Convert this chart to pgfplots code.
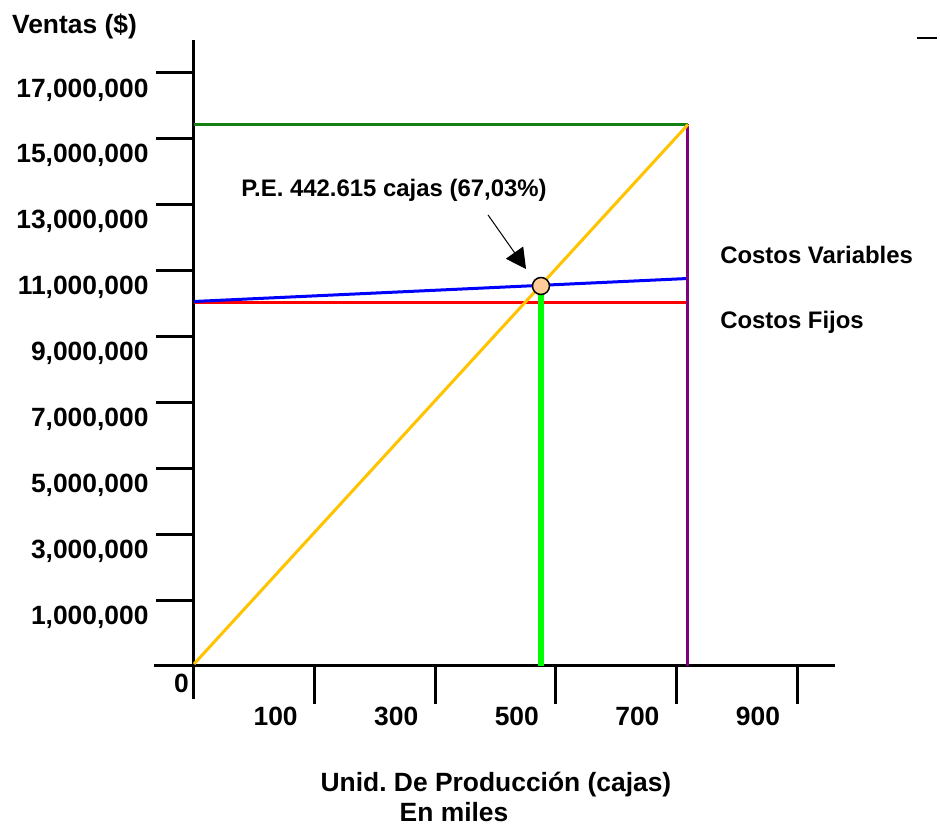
\documentclass[border=0pt]{standalone}
\usepackage{fontspec}
\setmainfont{Liberation Sans}
\usepackage{pgfplots}
\pgfplotsset{compat=1.18}
\usetikzlibrary{arrows.meta}
\definecolor{cyell}{RGB}{255,195,0}
\definecolor{cdgreen}{RGB}{20,128,20}
\definecolor{cpurple}{RGB}{128,0,128}
\definecolor{cred}{RGB}{255,0,0}
\definecolor{cblue}{RGB}{0,0,255}
\definecolor{clgreen}{RGB}{0,255,0}
\definecolor{cpeach}{RGB}{255,204,153}
\newcommand{\bigf}{\fontsize{26.5}{30}\selectfont\bfseries}
\newcommand{\midf}{\fontsize{24}{28}\selectfont\bfseries}
\frenchspacing
\begin{document}
\begin{tikzpicture}
\begin{axis}[
  x=120.6bp, y=65.9bp,
  xmin=-0.332, xmax=5.315, ymin=-0.5, ymax=9.5,
  axis lines=middle,
  axis line style={-, line width=3bp, black},
  xtick={1,2,3,4,5},
  xticklabels={100,300,500,700,900},
  ytick={1,2,3,4,5,6,7,8,9},
  yticklabels={{1,000,000},{3,000,000},{5,000,000},{7,000,000},{9,000,000},{11,000,000},{13,000,000},{15,000,000},{17,000,000}},
  tick align=outside,
  major tick length=38bp,
  tick style={line width=3bp, black},
  ticklabel style={font=\bigf},
  xticklabel style={xshift=-39bp},
  yticklabel style={yshift=-17bp, xshift=-4bp},
  clip=false,
]
% bounding box (whole picture)
\path (axis cs:-1.6086,-2.519) rectangle (axis cs:6.1857,10.106);
% Ventas totales (tope)
\addplot[cdgreen, line width=3bp] coordinates {(0,8.217) (4.096,8.217)};
% Costos fijos
\addplot[cred, line width=3bp] coordinates {(0,5.516) (4.096,5.516)};
% Costos variables
\addplot[cblue, line width=3bp] coordinates {(0,5.531) (4.096,5.880)};
% Vertical final
\addplot[cpurple, line width=3bp] coordinates {(4.096,0) (4.096,8.217)};
% Ventas
\addplot[cyell, line width=3bp] coordinates {(0,0.03) (4.096,8.217)};
% Punto de equilibrio vertical
\addplot[clgreen, line width=6bp] coordinates {(2.877,0) (2.877,5.766)};
% Punto de equilibrio
\addplot[only marks, mark=*, mark size=8.5bp, mark options={fill=cpeach, draw=black, line width=1.5bp}] coordinates {(2.877,5.766)};
% arrow
\draw[black, line width=1bp, -{Triangle[length=20bp,width=21bp]}] (axis cs:2.438,6.844) -- (axis cs:2.753,6.024);
% stray dash
\draw[black, line width=2bp] (axis cs:5.995,9.530) -- (axis cs:6.161,9.530);
% texts
\node[anchor=base, font=\bigf, inner sep=0pt] at (axis cs:-0.991,9.590) {Ventas (\$)};
\node[anchor=base west, font=\midf, inner sep=0pt] at (axis cs:4.362,6.115) {Costos Variables};
\node[anchor=base west, font=\midf, inner sep=0pt] at (axis cs:4.362,5.114) {Costos Fijos};
\node[anchor=base, font=\midf, inner sep=0pt] at (axis cs:1.658,7.117) {P.E. 442.615 cajas (67,03\%)};
\node[anchor=base, font=\bigf, inner sep=0pt] at (axis cs:-0.104,-0.395) {0};
\node[anchor=base, font=\bigf, inner sep=0pt] at (axis cs:2.504,-1.912) {Unid.\ De Producción (cajas)};
\node[anchor=base, font=\bigf, inner sep=0pt] at (axis cs:2.156,-2.367) {En miles};
\end{axis}
\end{tikzpicture}
\end{document}
